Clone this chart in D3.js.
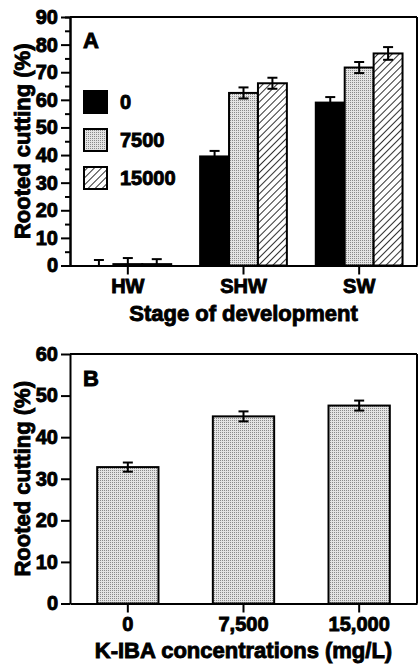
<!DOCTYPE html>
<html>
<head>
<meta charset="utf-8">
<script src="https://cdn.jsdelivr.net/npm/d3@7"></script>
<style>
  body { margin: 0; background: #fff; }
  svg text { font-family: "Liberation Sans", Arial, sans-serif; font-weight: 700; fill: #000; stroke: #000; stroke-width: 0.9px; }
</style>
</head>
<body>
<svg id="chart" width="420" height="667"></svg>
<script>
// Panel A data
var stages = ["HW", "SHW", "SW"];
var doses = ["0", "7500", "15000"];
var valuesA = {
  "0":     [0, 39.5, 59],
  "7500":  [0.5, 62.5, 71.7],
  "15000": [0.5, 66, 76.8]
};
var errorsA = {
  "0":     [2, 2, 2],
  "7500":  [2.2, 2, 2],
  "15000": [1.8, 2, 2.3]
};
var ticksA = [0, 10, 20, 30, 40, 50, 60, 70, 80, 90];

// Panel B data
var concLabels = ["0", "7,500", "15,000"];
var valuesB = [32.8, 45, 47.6];
var errorsB = [1.1, 1.2, 1.2];
var ticksB = [0, 10, 20, 30, 40, 50, 60];

var svg = d3.select("#chart");

// vzory výplně
var defs = svg.append("defs");
var dots = defs.append("pattern").attr("id", "dots")
  .attr("width", 2).attr("height", 2).attr("patternUnits", "userSpaceOnUse");
dots.append("rect").attr("width", 2).attr("height", 2).attr("fill", "#e4e4e4");
dots.append("rect").attr("width", 1).attr("height", 1).attr("fill", "#8a8a8a");

var hatch = defs.append("pattern").attr("id", "hatch")
  .attr("width", 5).attr("height", 5).attr("patternUnits", "userSpaceOnUse")
  .attr("patternTransform", "rotate(45)");
hatch.append("rect").attr("width", 5).attr("height", 5).attr("fill", "#fff");
hatch.append("line").attr("x1", 0.5).attr("y1", 0).attr("x2", 0.5).attr("y2", 5)
  .attr("stroke", "#333").attr("stroke-width", 1);

var fills = { "0": "#000", "7500": "url(#dots)", "15000": "url(#hatch)" };

var left = 70, right = 417;

function drawFrame(g, y, x0, x1, yTop) {
  g.append("line").attr("x1", x0).attr("x2", x1).attr("y1", yTop).attr("y2", yTop)
    .attr("stroke", "#000").attr("stroke-width", 2);
  g.append("line").attr("x1", x1).attr("x2", x1).attr("y1", yTop).attr("y2", y(0))
    .attr("stroke", "#000").attr("stroke-width", 2);
}

function styleAxis(sel) {
  sel.attr("font-family", null).attr("font-size", null);
  sel.selectAll("path, line").attr("stroke", "#000").attr("stroke-width", 2);
  sel.selectAll("text").attr("font-size", 20);
}

function errorBar(g, cx, y, v, e) {
  var lo = Math.max(0, v - e), hi = v + e;
  g.append("line").attr("x1", cx).attr("x2", cx).attr("y1", y(lo)).attr("y2", y(hi))
    .attr("stroke", "#000").attr("stroke-width", 2);
  [hi, lo].forEach(function (t) {
    if (t === 0) return;
    g.append("line").attr("x1", cx - 5).attr("x2", cx + 5).attr("y1", y(t)).attr("y2", y(t))
      .attr("stroke", "#000").attr("stroke-width", 2);
  });
}

////////////////////////// PANEL A //////////////////////////
var gA = svg.append("g");
var yA = d3.scaleLinear().domain([0, 90]).range([265.5, 17]);
var xA = d3.scaleBand().domain(stages).range([left, right]).paddingInner(0.25).paddingOuter(0.125);
var xA1 = d3.scaleBand().domain(doses).range([0, xA.bandwidth()]);

drawFrame(gA, yA, left, right, yA(90));

doses.forEach(function (d) {
  stages.forEach(function (s, i) {
    var v = valuesA[d][i];
    gA.append("rect")
      .attr("x", xA(s) + xA1(d))
      .attr("y", yA(v))
      .attr("width", xA1.bandwidth())
      .attr("height", yA(0) - yA(v))
      .attr("fill", fills[d])
      .attr("stroke", "#000").attr("stroke-width", 2);
  });
});
doses.forEach(function (d) {
  stages.forEach(function (s, i) {
    errorBar(gA, xA(s) + xA1(d) + xA1.bandwidth() / 2, yA, valuesA[d][i], errorsA[d][i]);
  });
});

// vedlejší dílky osy y
gA.append("g").attr("transform", "translate(" + left + ",0)")
  .call(d3.axisLeft(yA).tickValues(d3.range(5, 90, 10)).tickSize(5).tickFormat(""))
  .call(styleAxis);
gA.append("g").attr("transform", "translate(" + left + ",0)")
  .call(d3.axisLeft(yA).tickValues(ticksA).tickSize(9).tickPadding(3).tickSizeOuter(0))
  .call(styleAxis);
gA.append("g").attr("transform", "translate(0," + yA(0) + ")")
  .call(d3.axisBottom(xA).tickSize(9).tickPadding(4).tickSizeOuter(0))
  .call(styleAxis);

gA.append("text").attr("x", 83).attr("y", 48).attr("font-size", 22).text("A");

gA.append("text")
  .attr("transform", "translate(30," + (yA(0) + yA(90)) / 2 + ") rotate(-90)")
  .attr("text-anchor", "middle").attr("font-size", 22)
  .text("Rooted cutting (%)");
gA.append("text").attr("x", (left + right) / 2).attr("y", 321)
  .attr("text-anchor", "middle").attr("font-size", 22)
  .text("Stage of development");

// legenda
doses.forEach(function (d, i) {
  var yy = 91 + i * 38;
  gA.append("rect").attr("x", 84).attr("y", yy).attr("width", 23).attr("height", 22)
    .attr("fill", fills[d]).attr("stroke", "#000").attr("stroke-width", 2);
  gA.append("text").attr("x", 120).attr("y", yy + 18).attr("font-size", 20).text(d);
});

////////////////////////// PANEL B //////////////////////////
var gB = svg.append("g");
var yB = d3.scaleLinear().domain([0, 60]).range([603.5, 354]);
var xB = d3.scaleBand().domain(concLabels).range([left, right]).paddingInner(0.47).paddingOuter(0.235);

drawFrame(gB, yB, left, right, yB(60));

concLabels.forEach(function (c, i) {
  gB.append("rect")
    .attr("x", xB(c)).attr("y", yB(valuesB[i]))
    .attr("width", xB.bandwidth()).attr("height", yB(0) - yB(valuesB[i]))
    .attr("fill", "url(#dots)").attr("stroke", "#000").attr("stroke-width", 2);
  errorBar(gB, xB(c) + xB.bandwidth() / 2, yB, valuesB[i], errorsB[i]);
});

gB.append("g").attr("transform", "translate(" + left + ",0)")
  .call(d3.axisLeft(yB).tickValues(ticksB).tickSize(9).tickPadding(3).tickSizeOuter(0))
  .call(styleAxis);
gB.append("g").attr("transform", "translate(0," + yB(0) + ")")
  .call(d3.axisBottom(xB).tickSize(9).tickPadding(4).tickSizeOuter(0))
  .call(styleAxis);

gB.append("text").attr("x", 83).attr("y", 386).attr("font-size", 22).text("B");
gB.append("text")
  .attr("transform", "translate(30," + (yB(0) + yB(60)) / 2 + ") rotate(-90)")
  .attr("text-anchor", "middle").attr("font-size", 22)
  .text("Rooted cutting (%)");
gB.append("text").attr("x", (left + right) / 2).attr("y", 658)
  .attr("text-anchor", "middle").attr("font-size", 22)
  .text("K-IBA concentrations (mg/L)");
</script>
</body>
</html>
